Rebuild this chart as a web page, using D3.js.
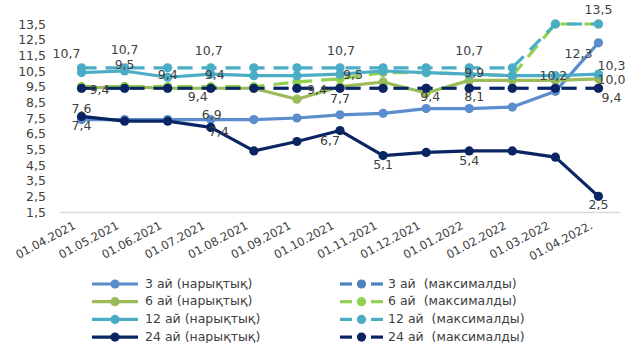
<!DOCTYPE html>
<html>
<head>
<meta charset="utf-8">
<script src="https://cdn.jsdelivr.net/npm/d3@7"></script>
<style>
  html, body { margin: 0; padding: 0; background: #fff; }
  svg { display: block; font-family: "DejaVu Sans", sans-serif; }
  .legend text { white-space: pre; }
</style>
</head>
<body>
<svg id="chart" width="638" height="343"></svg>
<script>
// Months on the horizontal axis
const categories = ["01.04.2021", "01.05.2021", "01.06.2021", "01.07.2021", "01.08.2021",
  "01.09.2021", "01.10.2021", "01.11.2021", "01.12.2021", "01.01.2022", "01.02.2022",
  "01.03.2022", "01.04.2022."];

// Vertical axis tick values (%)
const yTicks = [1.5, 2.5, 3.5, 4.5, 5.5, 6.5, 7.5, 8.5, 9.5, 10.5, 11.5, 12.5, 13.5];

// Deposit rates, % — market ("нарықтық") and maximum ("максималды")
const market3  = [7.4, 7.4, 7.4, 7.4, 7.4, 7.5, 7.7, 7.8, 8.1, 8.1, 8.2, 9.2, 12.3];
const max3     = [9.4, 9.4, 9.4, 9.4, 9.4, 9.4, 9.4, 9.4, 9.4, 9.4, 9.4, 9.4, 9.4];
const market6  = [9.4, 9.5, 9.4, 9.4, 9.4, 8.7, 9.5, 9.8, 9.1, 9.9, 9.9, 9.9, 10.0];
const max6     = [9.5, 9.5, 9.5, 9.5, 9.5, 9.8, 10.0, 10.4, 10.4, 10.3, 10.2, 13.5, 13.5];
const market12 = [10.4, 10.5, 10.1, 10.3, 10.2, 10.2, 10.3, 10.5, 10.4, 10.3, 10.2, 10.2, 10.3];
const max12    = [10.7, 10.7, 10.7, 10.7, 10.7, 10.7, 10.7, 10.7, 10.7, 10.7, 10.7, 13.5, 13.5];
const market24 = [7.6, 7.3, 7.3, 6.9, 5.4, 6.0, 6.7, 5.1, 5.3, 5.4, 5.4, 5.0, 2.5];
const max24    = [9.4, 9.4, 9.4, 9.4, 9.4, 9.4, 9.4, 9.4, 9.4, 9.4, 9.4, 9.4, 9.4];

const seriesNames = ["3 ай (нарықтық)", "3 ай  (максималды)", "6 ай (нарықтық)", "6 ай  (максималды)",
  "12 ай (нарықтық)", "12 ай  (максималды)", "24 ай (нарықтық)", "24 ай  (максималды)"];

const series = [
  { key: "m3",  name: seriesNames[0], values: market3,  color: "#5b8ccb", dashed: false },
  { key: "x3",  name: seriesNames[1], values: max3,     color: "#4f81bd", dashed: true },
  { key: "m6",  name: seriesNames[2], values: market6,  color: "#9bbb59", dashed: false },
  { key: "x6",  name: seriesNames[3], values: max6,     color: "#92d050", dashed: true },
  { key: "m12", name: seriesNames[4], values: market12, color: "#4bacc6", dashed: false },
  { key: "x12", name: seriesNames[5], values: max12,    color: "#4bacc6", dashed: true },
  { key: "m24", name: seriesNames[6], values: market24, color: "#0b2463", dashed: false },
  { key: "x24", name: seriesNames[7], values: max24,    color: "#0b2463", dashed: true }
];

// Which points carry a value label, and where the label sits relative to the point
const labelPlacement = [
  { s: "x12", i: 0, dx: -15, dy: -13 }, { s: "x12", i: 1, dx: 0, dy: -17 },
  { s: "x12", i: 3, dx: -2, dy: -16 }, { s: "x12", i: 6, dx: 1, dy: -16 },
  { s: "x12", i: 9, dx: 0, dy: -16 }, { s: "x12", i: 12, dx: 0, dy: -14 },
  { s: "m6", i: 1, dx: 0, dy: -21 }, { s: "m6", i: 2, dx: 0, dy: -13 },
  { s: "m6", i: 3, dx: 4, dy: -13 }, { s: "m6", i: 6, dx: 13, dy: -11 },
  { s: "m6", i: 9, dx: 5, dy: -7 }, { s: "m6", i: 12, dx: 13, dy: 2 },
  { s: "m12", i: 11, dx: -2, dy: 1 }, { s: "m12", i: 12, dx: 13, dy: -8 },
  { s: "x24", i: 0, dx: 18, dy: 2 }, { s: "x24", i: 3, dx: -13, dy: 9 },
  { s: "x24", i: 6, dx: -23, dy: 2 }, { s: "x24", i: 8, dx: 4, dy: 9 },
  { s: "x24", i: 12, dx: 13, dy: 10 },
  { s: "m3", i: 0, dx: 0, dy: 7 }, { s: "m3", i: 3, dx: 8, dy: 13 },
  { s: "m3", i: 6, dx: 0, dy: -15 }, { s: "m3", i: 9, dx: 5, dy: -11 },
  { s: "m3", i: 12, dx: -20, dy: 12 },
  { s: "m24", i: 0, dx: 0, dy: -7 }, { s: "m24", i: 3, dx: 1, dy: -12 },
  { s: "m24", i: 6, dx: -10, dy: 11 }, { s: "m24", i: 7, dx: 0, dy: 10 },
  { s: "m24", i: 9, dx: 0, dy: 11 }, { s: "m24", i: 12, dx: 0, dy: 9 }
];

const fmt = v => d3.format(".1f")(v).replace(".", ",");
const textColor = "#404040";

const svg = d3.select("#chart");
svg.append("rect").attr("width", 638).attr("height", 343).attr("fill", "#fff");

const x = d3.scaleBand().domain(categories).range([60, 620]).padding(0);
const cx = c => x(c) + x.bandwidth() / 2;
const y = d3.scaleLinear().domain([1.5, 13.5]).range([212, 24]);

// Vertical axis: labels only
const yAxis = svg.append("g")
  .attr("transform", "translate(46,0)")
  .call(d3.axisLeft(y).tickValues(yTicks).tickFormat(fmt).tickSize(0).tickPadding(0));
yAxis.select(".domain").remove();
yAxis.selectAll("text")
  .attr("fill", textColor).style("font-size", "12.5px").style("font-family", "DejaVu Sans");

// Horizontal axis: baseline and slanted month labels
const xAxis = svg.append("g")
  .attr("transform", "translate(0,212)")
  .call(d3.axisBottom(x).tickSize(0).tickPadding(0));
xAxis.select(".domain").attr("stroke", "#d9d9d9").attr("stroke-width", 1.5);
xAxis.selectAll(".tick text")
  .attr("fill", textColor).style("font-size", "11.5px").style("font-family", "DejaVu Sans")
  .attr("text-anchor", "end")
  .attr("y", 0).attr("dy", 0)
  .attr("transform", "translate(-5,16) rotate(-28)");

// Lines and markers
const line = d3.line().x((d, i) => cx(categories[i])).y(d => y(d));
const plot = svg.append("g");
series.forEach(s => {
  const g = plot.append("g");
  g.append("path")
    .attr("d", line(s.values))
    .attr("fill", "none")
    .attr("stroke", s.color)
    .attr("stroke-width", 3.2)
    .attr("stroke-linejoin", "round")
    .attr("stroke-dasharray", s.dashed ? "15,9" : null);
  g.selectAll("circle").data(s.values).join("circle")
    .attr("cx", (d, i) => cx(categories[i]))
    .attr("cy", d => y(d))
    .attr("r", 4.6)
    .attr("fill", s.color);
});

// Value labels
const byKey = Object.fromEntries(series.map(s => [s.key, s]));
svg.append("g").selectAll("text").data(labelPlacement).join("text")
  .attr("x", d => cx(categories[d.i]) + d.dx)
  .attr("y", d => y(byKey[d.s].values[d.i]) + d.dy)
  .attr("text-anchor", "middle")
  .attr("dominant-baseline", "middle")
  .attr("fill", textColor)
  .style("font-size", "12.5px")
  .text(d => fmt(byKey[d.s].values[d.i]));

// Legend: market series on the left, maximum series on the right
const legend = svg.append("g").attr("class", "legend");
series.forEach((s, k) => {
  const col = k % 2, row = Math.floor(k / 2);
  const x0 = col === 0 ? 92 : 340;
  const yy = 284 + row * 17.7;
  const g = legend.append("g");
  if (s.dashed) {
    g.append("line").attr("x1", x0).attr("x2", x0 + 12).attr("y1", yy).attr("y2", yy)
      .attr("stroke", s.color).attr("stroke-width", 3.2);
    g.append("line").attr("x1", x0 + 31).attr("x2", x0 + 43).attr("y1", yy).attr("y2", yy)
      .attr("stroke", s.color).attr("stroke-width", 3.2);
    g.append("circle").attr("cx", x0 + 21.5).attr("cy", yy).attr("r", 4.6).attr("fill", s.color);
  } else {
    g.append("line").attr("x1", x0).attr("x2", x0 + 46).attr("y1", yy).attr("y2", yy)
      .attr("stroke", s.color).attr("stroke-width", 3.2);
    g.append("circle").attr("cx", x0 + 23).attr("cy", yy).attr("r", 4.6).attr("fill", s.color);
  }
  g.append("text")
    .attr("x", col === 0 ? 145 : 388)
    .attr("y", yy)
    .attr("dominant-baseline", "middle")
    .attr("fill", textColor)
    .style("font-size", "12.5px")
    .text(s.name);
});
</script>
</body>
</html>
